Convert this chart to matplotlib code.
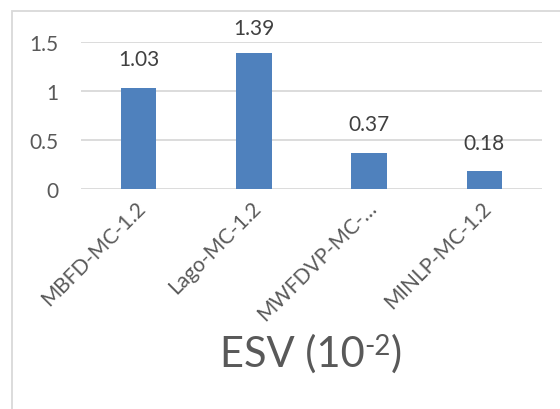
import matplotlib
matplotlib.use("Agg")
import matplotlib.pyplot as plt
from matplotlib.patches import Rectangle
from matplotlib.transforms import ScaledTranslation

categories = ["MBFD-MC-1.2", "Lago-MC-1.2", "MWFDVP-MC-…", "MINLP-MC-1.2"]
esv_values = [1.03, 1.39, 0.37, 0.18]
value_labels = ["1.03", "1.39", "0.37", "0.18"]
y_ticks = [0, 0.5, 1, 1.5]
y_tick_labels = ["0", "0.5", "1", "1.5"]

plt.rcParams["font.family"] = ["Lato", "DejaVu Sans"]

BAR_COLOR = "#4F81BD"
GRID_COLOR = "#D9D9D9"
TEXT_COLOR = "#595959"
LABEL_COLOR = "#404040"
W, H = 560, 410

fig = plt.figure(figsize=(W / 100, H / 100), dpi=100)
fig.patch.set_facecolor("white")

# chart frame (left and top edges visible)
fig.add_artist(Rectangle((12 / W, -0.1), 1.2, 1 - 12 / H + 0.1,
                         transform=fig.transFigure, fill=False,
                         edgecolor=GRID_COLOR, linewidth=1.3))

ax = fig.add_axes([81 / W, 1 - 190 / H, 461 / W, 147 / H])
x = list(range(len(categories)))
ax.bar(x, esv_values, width=0.31, color=BAR_COLOR, zorder=3)

ax.set_xlim(-0.5, len(categories) - 0.5)
ax.set_ylim(0, 1.5)
ax.set_yticks(y_ticks)
ax.set_yticklabels(y_tick_labels, fontsize=15, color=TEXT_COLOR)
ax.yaxis.grid(True, color=GRID_COLOR, linewidth=1.3, zorder=0)
ax.set_axisbelow(True)
for s in ax.spines.values():
    s.set_visible(False)
ax.tick_params(axis="y", length=0, pad=16)
ax.tick_params(axis="x", length=0, pad=11)

ax.set_xticks(x)
ax.set_xticklabels(categories, fontsize=15, color=TEXT_COLOR, rotation=45,
                   ha="right", va="center", rotation_mode="anchor")
shift = ScaledTranslation(4 / 100, 0, fig.dpi_scale_trans)
for lab in ax.get_xticklabels():
    lab.set_transform(lab.get_transform() + shift)

# data labels above the bars
for xi, v, t in zip(x, esv_values, value_labels):
    ypos = min(v + 0.19, 1.54)
    ax.text(xi, ypos, t, ha="center", va="bottom", fontsize=15,
            color=LABEL_COLOR)

# axis title with a raised "-2" exponent, centred under the plot area
renderer = fig.canvas.get_renderer()
pieces = [("ESV (10", 30, 0), ("-2", 20, 12), (")", 30, 0)]
baseline = 367
texts, widths = [], []
for s, size, rise in pieces:
    t = fig.text(0, 1 - (baseline - rise) / H, s, ha="left", va="baseline",
                 fontsize=size, color=TEXT_COLOR)
    texts.append(t)
    widths.append(t.get_window_extent(renderer).width)
xpos = 311 - sum(widths) / 2
for t, w in zip(texts, widths):
    t.set_x(xpos / W)
    xpos += w

fig.savefig("out.png", dpi=100, facecolor="white")
